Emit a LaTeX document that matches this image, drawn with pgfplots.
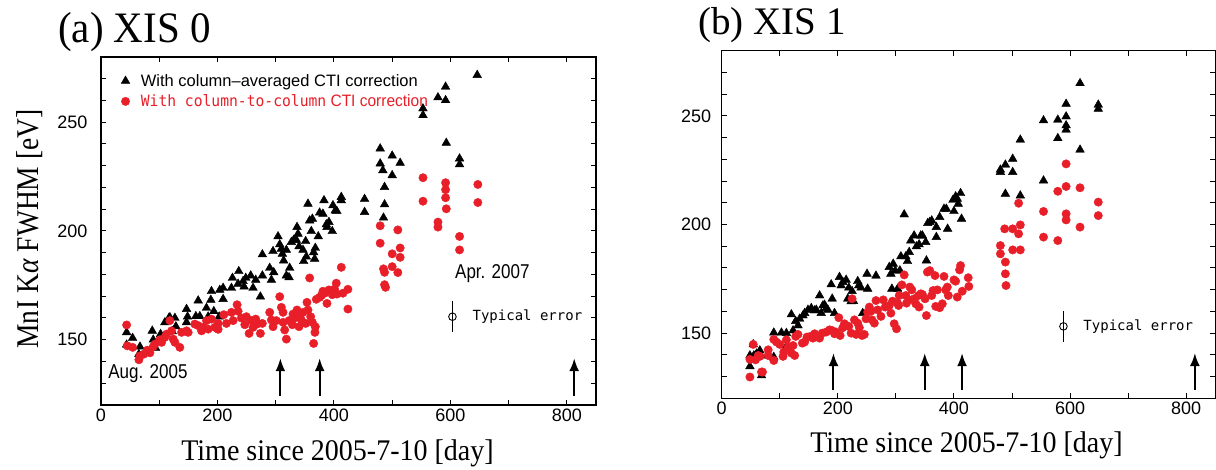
\documentclass[border=0pt]{standalone}
\usepackage{pgfplots}
\pgfplotsset{compat=1.18}
\usepackage{pgfplotstable}
\usepackage{fontspec}
\usetikzlibrary{arrows.meta}
\setmainfont{Liberation Serif}
\setsansfont{Liberation Sans}
\newfontfamily\monofont{DejaVu Sans Mono}
\definecolor{myred}{RGB}{232,30,40}

\pgfplotstableread{
x y
44.0 153.4
44.0 147.7
54.3 150.8
66.9 146.8
65.1 143.4
88.0 154.1
89.7 150.0
93.7 146.2
102.3 152.6
105.7 150.8
109.7 158.0
116.6 160.0
118.3 160.3
126.9 160.0
128.6 156.1
122.3 153.8
146.9 164.1
148.6 160.6
146.9 158.0
166.9 168.0
162.9 160.8
169.7 160.8
181.1 164.6
184.0 160.6
189.7 172.3
188.6 168.3
193.7 163.1
202.9 160.6
204.0 172.9
209.7 173.8
209.7 168.7
225.7 178.4
224.0 173.8
236.6 181.5
235.4 175.7
244.0 176.9
245.7 174.4
248.6 178.4
257.1 179.5
261.1 173.8
265.7 177.5
273.7 169.8
277.1 179.5
277.1 189.2
289.7 183.0
292.6 177.5
295.4 190.7
296.6 181.0
304.0 197.5
306.9 193.8
309.7 191.8
311.4 189.5
313.7 186.4
318.3 191.3
318.3 179.5
322.9 178.7
324.0 183.0
326.9 194.9
330.9 195.9
336.6 201.8
335.4 195.9
338.3 198.7
340.0 192.9
346.9 191.3
348.0 186.1
351.4 195.3
352.6 188.2
355.4 212.5
358.3 204.8
361.1 199.9
362.9 205.6
365.1 190.2
366.9 187.2
368.0 192.2
373.1 197.5
375.4 208.4
382.9 214.1
381.1 207.9
386.9 203.0
388.0 201.8
391.4 204.1
397.1 199.9
398.3 211.8
402.3 209.4
405.1 209.1
412.6 215.6
412.6 214.1
452.6 214.7
452.6 208.7
479.4 237.9
479.4 231.0
484.0 227.9
486.9 220.2
486.9 212.2
485.1 206.1
500.0 234.6
500.0 225.6
513.7 231.3
552.9 256.3
552.9 253.2
578.6 261.4
591.7 266.3
591.7 260.1
592.9 240.5
615.7 233.3
615.7 230.6
646.0 271.7
}\blackA

\pgfplotstableread{
x y
44.0 156.8
45.1 147.2
54.3 146.5
65.1 140.8
66.9 142.6
73.7 143.4
79.4 145.2
84.0 144.0
89.7 146.8
92.6 148.0
101.1 150.0
104.0 148.8
109.7 151.1
112.6 152.6
118.3 158.8
121.1 154.1
124.0 150.3
126.9 148.8
135.4 146.5
138.3 153.4
146.9 154.1
149.7 153.4
161.1 157.2
166.9 156.5
172.6 154.1
175.4 155.7
181.1 158.8
184.0 154.9
189.7 159.5
195.4 155.7
201.1 154.8
201.1 157.5
210.9 161.5
215.4 157.5
224.0 162.6
226.9 158.8
233.7 166.1
235.4 163.1
241.1 160.0
246.9 156.9
249.7 160.6
254.3 152.9
258.3 158.8
261.1 155.7
265.7 159.5
268.0 157.2
273.7 152.9
277.1 157.5
289.7 162.6
292.6 159.1
295.4 156.0
301.1 158.8
306.9 169.8
309.7 164.9
312.6 162.6
312.6 158.0
315.4 154.5
318.3 150.3
322.9 158.8
328.6 156.9
329.7 161.8
332.6 160.0
336.6 163.7
340.0 156.0
341.1 161.5
344.0 159.1
346.9 162.6
351.4 157.5
353.7 167.2
355.4 163.7
358.3 178.4
360.0 160.6
362.9 158.0
365.1 148.3
367.4 153.4
368.0 156.0
369.7 168.6
375.4 169.5
378.3 170.3
381.1 172.3
384.0 171.4
388.0 166.7
391.4 172.9
397.1 170.7
401.1 173.3
404.0 176.0
405.1 171.0
412.6 183.3
415.4 171.4
424.0 173.2
424.0 164.1
479.4 202.4
479.4 194.4
485.1 182.6
486.9 181.0
486.9 175.3
488.6 174.1
500.0 189.5
500.0 183.6
509.7 200.5
509.7 180.9
513.7 192.2
513.7 187.9
552.9 224.5
552.9 213.7
578.6 204.1
578.6 201.8
591.7 222.2
591.7 219.0
591.7 215.3
592.9 210.2
615.7 197.5
615.7 191.3
647.1 221.4
647.1 213.1
}\redA

\pgfplotstableread{
x y
48.6 134.7
48.6 139.7
54.3 144.8
55.4 139.7
60.0 140.5
65.7 142.0
67.4 139.7
68.6 130.5
80.0 139.7
89.7 150.2
89.7 139.0
102.9 150.2
111.4 150.0
111.4 143.9
120.0 158.6
122.9 151.2
127.4 155.5
131.4 153.5
134.3 156.6
140.0 158.1
142.9 159.2
148.6 160.7
154.3 161.5
160.0 160.4
162.9 160.7
168.6 167.3
171.4 159.2
174.3 162.7
177.1 163.0
180.0 161.5
182.9 160.7
188.6 172.4
190.3 165.8
194.3 159.2
202.9 175.8
205.7 171.9
208.6 173.5
214.3 174.5
217.1 165.8
218.9 170.9
222.9 164.6
224.6 169.3
226.9 164.7
234.3 173.9
236.0 171.9
240.0 170.9
251.4 170.4
242.9 159.2
250.3 177.3
265.7 176.4
288.6 180.4
291.4 177.3
293.1 170.4
295.4 181.9
298.9 178.8
302.9 170.4
306.9 178.8
308.6 185.3
314.3 204.6
317.1 185.3
320.0 183.1
322.9 187.3
325.7 192.6
331.4 194.9
335.4 189.9
340.0 190.8
342.9 194.9
345.7 194.9
351.4 191.9
352.6 183.4
354.9 200.6
358.3 201.1
361.7 201.8
369.7 198.8
369.7 194.2
375.4 203.4
382.9 207.2
386.9 207.2
389.1 198.0
398.3 211.3
400.0 206.1
402.9 212.9
405.7 211.8
407.4 209.5
411.4 214.4
413.1 202.6
480.0 224.1
480.0 225.2
488.6 227.5
488.6 214.1
501.2 230.2
501.2 224.1
514.3 239.0
514.3 213.3
554.3 247.9
554.3 220.2
578.9 248.2
578.9 239.7
593.2 255.5
593.2 249.7
593.2 245.6
593.2 243.6
617.2 265.0
617.2 234.4
648.6 255.1
648.6 253.2
}\blackB

\pgfplotstableread{
x y
48.6 129.8
48.6 137.9
54.3 144.8
58.3 137.7
62.9 139.7
65.7 139.3
68.6 132.1
70.3 132.1
80.0 139.7
80.0 142.3
89.7 147.1
89.7 137.4
94.3 145.9
100.0 144.8
105.7 139.3
106.9 141.3
111.4 146.9
114.3 143.6
120.0 140.8
122.9 144.3
125.7 139.7
127.4 148.5
131.4 149.4
138.9 145.4
142.9 145.9
146.9 148.2
152.6 148.5
157.1 147.7
160.0 149.7
165.7 148.5
168.6 147.7
173.1 150.0
180.0 150.5
185.7 151.5
190.3 151.2
194.3 149.7
197.1 150.5
201.7 157.1
204.0 148.9
208.6 152.5
211.4 154.3
214.3 153.5
218.9 153.1
222.9 150.0
224.6 165.8
228.6 156.1
231.4 149.4
234.3 154.6
237.1 152.5
241.7 148.9
245.7 149.4
248.6 156.6
251.4 159.7
254.3 162.0
257.1 160.1
258.9 156.1
262.9 154.6
265.7 165.0
268.6 160.7
274.3 157.7
278.3 165.3
281.7 162.0
288.6 162.7
291.4 159.2
294.3 164.7
297.1 154.3
301.1 152.0
302.9 163.8
304.6 162.7
305.7 167.3
310.3 172.2
314.3 176.8
317.1 167.3
318.3 163.8
322.9 165.3
324.0 171.2
327.4 169.9
331.4 165.8
334.3 163.5
338.9 167.3
340.0 162.0
342.9 168.1
345.7 167.8
350.3 165.8
352.6 158.1
354.3 178.1
358.3 178.8
361.7 167.3
364.0 169.6
367.4 176.5
368.6 162.3
371.4 169.9
375.4 161.7
380.0 163.5
382.9 176.1
385.7 169.9
388.6 171.2
390.3 167.3
400.0 174.5
402.9 173.9
405.7 166.6
409.7 179.1
411.4 181.1
414.3 169.3
425.7 171.5
424.6 175.5
480.0 190.3
480.0 186.5
487.4 198.0
488.6 182.7
488.6 177.3
489.7 171.9
501.2 198.0
501.2 188.3
511.4 209.8
511.4 195.7
514.3 199.8
514.3 188.3
554.3 206.0
554.3 194.2
578.9 215.3
578.9 192.6
593.2 227.9
593.2 217.5
593.2 204.9
593.2 202.1
617.2 216.9
617.2 198.8
648.6 210.3
648.6 204.1
}\redB

\tikzset{arr/.style={line width=2pt, -{Latex[length=13pt,width=10pt]}}}
\pgfplotsset{
  panel/.style={
    anchor=south west, scale only axis,
    xmin=0, xmax=850, ymin=120, ymax=280,
    xtick={0,200,400,600,800},
    minor xtick={100,300,500,700},
    ytick={150,200,250},
    minor ytick={120,130,...,280},
    tick align=inside,
    major tick length=5pt, minor tick length=5pt,
    every tick/.style={black, line width=1pt},
    axis line style={line width=1.3pt},
    /pgf/number format/assume math mode=true,
    ticklabel style={font=\fontsize{18}{18}\selectfont\sffamily},
    clip=false,
  },
  blk/.style={only marks, mark=triangle*, mark size=5pt, black, mark options={fill=black, draw=black}},
  rd/.style={only marks, mark=*, mark size=4.2pt, myred, mark options={fill=myred, draw=myred}},
}

\begin{document}
\begin{tikzpicture}
\useasboundingbox (0pt,0pt) rectangle (1216pt,469pt);

% ---------------- panel (a)
\begin{axis}[panel, at={(101pt,64pt)}, width=495pt, height=348pt,
  yticklabel style={xshift=-10pt},
  legend style={draw=none, fill=none, at={(0,1)}, anchor=north west,
    xshift=17pt, yshift=-13pt, row sep=3pt, column sep=9pt,
    font=\fontsize{16.5}{16.5}\selectfont\sffamily},
  legend cell align=left,
  legend image code/.code={\draw[#1] plot coordinates {(0pt,0pt)};}]
\addplot[blk] table {\blackA};
\addlegendentry{With column--averaged CTI correction}
\addplot[rd] table {\redA};
\addlegendentry{\textcolor{myred}{\scalebox{0.94}[1]{{\monofont\fontsize{15.6}{16}\selectfont With column-to-column} CTI correction}}}
\addplot[only marks, mark=o, mark size=3.8pt, black, line width=0.9pt,
  error bars/.cd, y dir=both, y explicit, error mark=none,
  error bar style={line width=1pt, black}]
  coordinates {(603.5,160.6) +- (0,7.2)};
\draw[arr] (axis cs:308,124.2) -- (axis cs:308,141.5);
\draw[arr] (axis cs:375.5,124.2) -- (axis cs:375.5,141.5);
\draw[arr] (axis cs:812.6,124.2) -- (axis cs:812.6,141.5);
\node[inner sep=0] at (axis cs:80.6,134.3) {\scalebox{0.85}[1]{\fontsize{20}{20}\selectfont\sffamily Aug. 2005}};
\node[inner sep=0] at (axis cs:672,180.4) {\scalebox{0.85}[1]{\fontsize{20}{20}\selectfont\sffamily Apr. 2007}};
\node[inner sep=0, anchor=west] at (axis cs:637.8,160.6) {\monofont\fontsize{14}{14}\selectfont Typical error};
\end{axis}

% ---------------- panel (b)
\begin{axis}[panel, at={(721.7pt,70.7pt)}, width=493.5pt, height=347.6pt,
  yticklabel style={xshift=-7pt}]
\addplot[blk] table {\blackB};
\addplot[rd] table {\redB};
\addplot[only marks, mark=o, mark size=3.8pt, black, line width=0.9pt,
  error bars/.cd, y dir=both, y explicit, error mark=none,
  error bar style={line width=1pt, black}]
  coordinates {(588.6,153.1) +- (0,7.1)};
\draw[arr] (axis cs:192.5,124) -- (axis cs:192.5,140.8);
\draw[arr] (axis cs:349.7,124) -- (axis cs:349.7,140.8);
\draw[arr] (axis cs:414,124) -- (axis cs:414,140.8);
\draw[arr] (axis cs:815,124) -- (axis cs:815,140.8);
\node[inner sep=0, anchor=west] at (axis cs:622.8,153.1) {\monofont\fontsize{14}{14}\selectfont Typical error};
\end{axis}

% ---------------- titles and labels
\node[anchor=base west, inner sep=0] at (58pt,426pt) {\scalebox{1}[1.06]{\fontsize{41}{41}\selectfont (a) XIS 0}};
\node[anchor=base west, inner sep=0] at (698pt,434pt) {\fontsize{39}{39}\selectfont (b) XIS 1};
\node[rotate=90, inner sep=0] at (30pt,240pt) {\scalebox{1}[1.15]{\fontsize{27.5}{28}\selectfont Mn\kern0.5pt I K\textit{α} FWHM [eV]}};
\node[anchor=base, inner sep=0] at (337.5pt,9pt) {\scalebox{1}[1.07]{\fontsize{28}{28}\selectfont Time since 2005-7-10 [day]}};
\node[anchor=base, inner sep=0] at (966.5pt,17pt) {\scalebox{1}[1.07]{\fontsize{28}{28}\selectfont Time since 2005-7-10 [day]}};
\end{tikzpicture}
\end{document}
